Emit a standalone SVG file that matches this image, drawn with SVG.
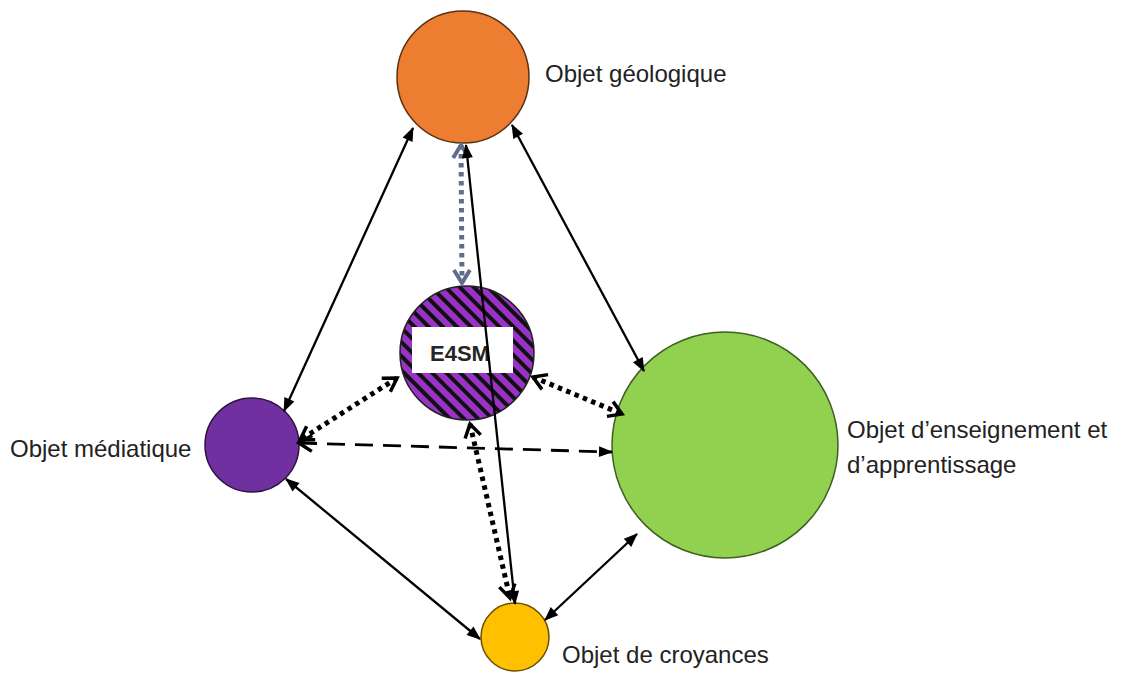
<svg xmlns="http://www.w3.org/2000/svg" width="1121" height="679" viewBox="0 0 1121 679">
  <style>
    .lbl { font-family: "Liberation Sans", Arial, sans-serif; font-size: 24px; fill: #222; }
    .node { stroke-width: 1.5; }
    .solid { stroke: #000; stroke-width: 2.3; fill: none; marker-start: url(#arr); marker-end: url(#arr); }
    .dot { stroke: #000; stroke-width: 5; stroke-dasharray: 4.5 4.5; fill: none; marker-start: url(#chev); marker-end: url(#chev); }
    .dotg { stroke: #5E6E8C; stroke-width: 5; stroke-dasharray: 4.5 4.5; fill: none; marker-start: url(#chevg); marker-end: url(#chevg); }
    .dash { stroke: #000; stroke-width: 2.8; stroke-dasharray: 18 10; fill: none; marker-start: url(#chev); marker-end: url(#arr); }
  </style>
  <defs>
    <marker id="arr" markerUnits="userSpaceOnUse" markerWidth="14" markerHeight="11" refX="13" refY="5.5" orient="auto-start-reverse" overflow="visible">
      <path d="M0,0 L14,5.5 L0,11 z" fill="#000"/>
    </marker>
    <marker id="chev" markerUnits="userSpaceOnUse" markerWidth="14" markerHeight="16" refX="13" refY="8" orient="auto-start-reverse" overflow="visible">
      <path d="M0,0 L13,8 L0,16" fill="none" stroke="#000" stroke-width="3.5"/>
    </marker>
    <marker id="chevg" markerUnits="userSpaceOnUse" markerWidth="14" markerHeight="16" refX="13" refY="8" orient="auto-start-reverse" overflow="visible">
      <path d="M0,0 L13,8 L0,16" fill="none" stroke="#5E6E8C" stroke-width="4"/>
    </marker>
    <pattern id="hatch" patternUnits="userSpaceOnUse" width="10" height="10" patternTransform="rotate(-45)">
      <rect width="10" height="10" fill="#9A32C8"/>
      <rect width="4" height="10" fill="#111"/>
    </pattern>
  </defs>

  <g id="geologique">
    <circle class="node" cx="463" cy="77" r="66" fill="#ED7D31" stroke="#5a3010"/>
    <text class="lbl" x="545" y="82">Objet géologique</text>
  </g>
  <g id="mediatique">
    <circle class="node" cx="252" cy="445" r="47" fill="#7030A0" stroke="#2e1240"/>
    <text class="lbl" x="10" y="457">Objet médiatique</text>
  </g>
  <g id="enseignement">
    <circle class="node" cx="725" cy="445" r="113" fill="#92D050" stroke="#3d6020"/>
    <text class="lbl" x="847" y="438">Objet d’enseignement et</text>
    <text class="lbl" x="847" y="473">d’apprentissage</text>
  </g>
  <g id="croyances">
    <circle class="node" cx="515" cy="637" r="34" fill="#FFC000" stroke="#6a5000"/>
    <text class="lbl" x="562" y="663">Objet de croyances</text>
  </g>
  <g id="e4sm">
    <circle class="node" cx="467" cy="353" r="67" fill="url(#hatch)" stroke="#222"/>
    <rect x="412" y="327" width="101" height="46" fill="#fff"/>
    <text x="460" y="361" text-anchor="middle" font-family="Liberation Sans, Arial, sans-serif" font-weight="bold" font-size="22" fill="#262626">E4SM</text>
  </g>

  <g id="connectors">
    <line class="solid" x1="413" y1="128" x2="284" y2="411"/>
    <line class="solid" x1="512" y1="125" x2="644" y2="371"/>
    <line class="solid" x1="286" y1="479" x2="480" y2="639"/>
    <line class="solid" x1="637" y1="534" x2="545" y2="620"/>
    <line class="dotg" x1="461" y1="145" x2="462" y2="283"/>
    <line class="solid" x1="466" y1="145" x2="515" y2="604"/>
    <line class="dot" x1="397" y1="378" x2="300" y2="440"/>
    <line class="dot" x1="533" y1="377" x2="622" y2="414"/>
    <line class="dot" x1="470" y1="424" x2="510" y2="598"/>
    <line class="dash" x1="299" y1="443" x2="612" y2="452"/>
  </g>
</svg>
